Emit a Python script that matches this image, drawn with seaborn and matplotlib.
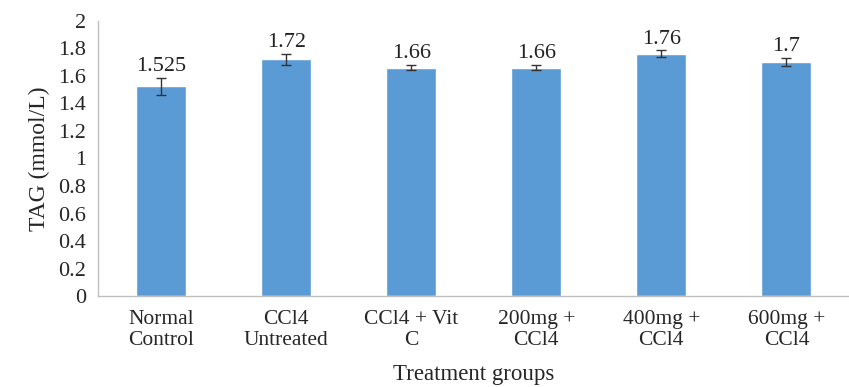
import numpy as np
import pandas as pd
import matplotlib
matplotlib.use("Agg")
import matplotlib.pyplot as plt
import seaborn as sns

groups = ["Normal\nControl", "CCl4\nUntreated", "CCl4 + Vit\nC", "200mg +\nCCl4", "400mg +\nCCl4", "600mg +\nCCl4"]
tag_mean = [1.525, 1.72, 1.66, 1.66, 1.76, 1.7]
tag_err = [0.06, 0.04, 0.02, 0.02, 0.025, 0.03]
value_labels = ["1.525", "1.72", "1.66", "1.66", "1.76", "1.7"]

sns.set_style("white")
plt.rcParams['font.family'] = ['Liberation Serif', 'DejaVu Serif']

df = pd.DataFrame({"group": groups, "tag": tag_mean})

fig = plt.figure(figsize=(8.49, 3.87), dpi=100)
ax = fig.add_axes([0.116, 0.235, 0.884, 0.711])

sns.barplot(data=df, x="group", y="tag", color="#5B9BD5", saturation=1,
            width=0.4, errorbar=None, ax=ax)
ax.errorbar(np.arange(len(groups)), tag_mean, yerr=tag_err, fmt="none",
            ecolor="#333333", elinewidth=1, capsize=3.5, capthick=1)

for i, (m, e, lab) in enumerate(zip(tag_mean, tag_err, value_labels)):
    ax.text(i, m + e + 0.012, lab, ha="center", va="bottom", fontsize=16, color="#222222")

ax.set_ylim(0, 2)
ax.set_xlim(-0.5, 5.44)
ax.set_yticks(np.arange(0, 2.01, 0.2))
ax.set_yticklabels(["0", "0.2", "0.4", "0.6", "0.8", "1", "1.2", "1.4", "1.6", "1.8", "2"])
ax.set_xticks(np.arange(len(groups)))
ax.set_xticklabels(groups, linespacing=1.12)
ax.set_xticks(np.arange(-0.5, 5.6, 1), minor=True)
ax.tick_params(axis="x", which="major", length=0, pad=10, labelsize=15.5)
ax.tick_params(axis="x", which="minor", length=5, color="#BFBFBF", width=1)
ax.tick_params(axis="y", length=5, color="#BFBFBF", width=1, labelsize=16, pad=4)

for s in ["top", "right"]:
    ax.spines[s].set_visible(False)
for s in ["left", "bottom"]:
    ax.spines[s].set_color("#BFBFBF")
    ax.spines[s].set_linewidth(1)

ax.set_xlabel("Treatment groups", fontsize=16.5, labelpad=10)
ax.set_ylabel("TAG (mmol/L)", fontsize=17, labelpad=6)

fig.savefig("out.png", dpi=100)
